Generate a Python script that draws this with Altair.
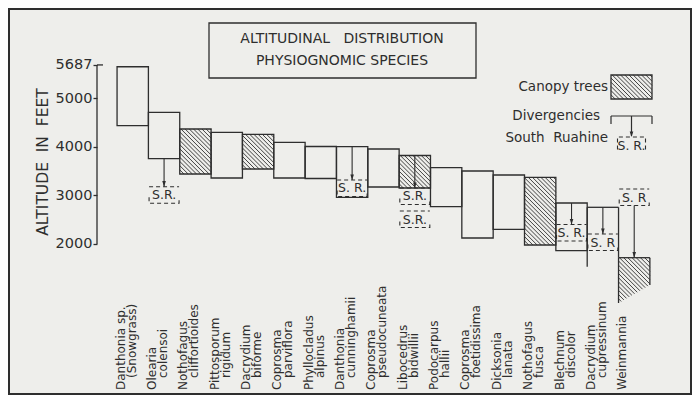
import altair as alt
import numpy as np
import pandas as pd

# ---------------- data ----------------
species_line1 = ["Danthonia sp.", "Olearia", "Nothofagus", "Pittosporum", "Dacrydium",
                 "Coprosma", "Phyllocladus", "Danthonia", "Coprosma", "Libocedrus",
                 "Podocarpus", "Coprosma", "Dicksonia", "Nothofagus", "Blechnum",
                 "Dacrydium", "Weinmannia"]
species_line2 = ["(Snowgrass)", "colensoi", "cliffortioides", "rigidum", "biforme",
                 "parviflora", "alpinus", "cunninghamii", "pseudocuneata", "bidwillii",
                 "hallii", "foetidissima", "lanata", "fusca", "discolor",
                 "cupressinum", ""]
top_ft = [5650, 4711, 4367, 4299, 4258, 4093, 4007, 4003, 3955, 3821,
          3570, 3502, 3420, 3372, 2843, 2754, 1716]
bottom_left_ft = [4435, 3755, 3440, 3358, 3543, 3358, 3347, 2960, 3172, 3152,
                  2767, 2122, 2301, 1978, 1860, 1531, 783]
bottom_right_ft = [4435, 3755, 3440, 3358, 3543, 3358, 3347, 2960, 3172, 3152,
                   2767, 2122, 2301, 1978, 1860, 1716, 1154]
canopy = [False, False, True, False, True, False, False, False, False, True,
          False, False, False, True, False, False, True]
open_bottom = [False] * 15 + [True, True]

# South Ruahine divergencies
sr_index = [1, 7, 9, 9, 14, 15, 16]
sr_top_ft = [3179, 3317, 3152, 2678, 2400, 2204, 3131]
sr_text = ["S.R.", "S. R.", "S.R.", "S.R.", "S. R.", "S. R", "S. R"]
arrow_index = [1, 7, 9, 14, 15, 16]
arrow_from_ft = [3755, 4003, 3821, 2843, 2754, 2790]
arrow_to_ft = [3179, 3317, 3152, 2400, 2204, 1716]

axis_ticks = [2000, 3000, 4000, 5000, 5687]

# ---------------- layout / style ----------------
BG = "#eeeeeb"
INK = "#2e2e2e"
FONT = "DejaVu Sans"
W, H = 593, 325
XD = [-0.64, 18.28]
YD = [0, 6695]
PX_X = W / (XD[1] - XD[0])
PX_Y = H / (YD[1] - YD[0])
HATCH_STEP = 4.2

xs = alt.Scale(domain=XD, nice=False, zero=False)
ys = alt.Scale(domain=YD, nice=False, zero=False)
yaxis = alt.Axis(values=axis_ticks, format="d", domain=False, grid=False, tickSize=4,
                 tickColor=INK, tickWidth=1.3, labelFontSize=14.5, labelFont=FONT,
                 labelColor=INK, labelPadding=1, title=None)


def X(f):
    return alt.X(f, type="quantitative", scale=xs, axis=None)


def Y(f):
    return alt.Y(f, type="quantitative", scale=ys, axis=yaxis)


def hatch(x0, x1, top, bl, br):
    """45-degree '\\' hatch segments clipped to a (possibly slanted-bottom) box."""
    w = (x1 - x0) * PX_X
    hl = (top - bl) * PX_Y
    hr = (top - br) * PX_Y
    k = (hr - hl) / w
    segs = []
    c = -max(hl, hr)
    while c < w:
        lo = max(0.0, c)
        hi = min(w, (c + hl) / (1 - k))
        if hi - lo > 0.4:
            segs.append((x0 + lo / PX_X, top - (lo - c) / PX_Y,
                         x0 + hi / PX_X, top - (hi - c) / PX_Y))
        c += HATCH_STEP
    return segs


n = len(top_ft)
bars = pd.DataFrame({
    "x0": np.arange(n, dtype=float), "x1": np.arange(n, dtype=float) + 1,
    "xc": np.arange(n, dtype=float) + 0.5,
    "top": top_ft, "bl": bottom_left_ft, "br": bottom_right_ft,
    "canopy": canopy, "open": open_bottom,
    "l1": species_line1, "l2": species_line2,
})

seg_rows = []
for _, r in bars.iterrows():
    if r["open"]:
        seg_rows.append((r.x0, r.top, r.x1, r.top))
        seg_rows.append((r.x0, r.top, r.x0, r.bl))
        seg_rows.append((r.x1, r.top, r.x1, r.br))
edges = pd.DataFrame(seg_rows, columns=["xa", "ya", "xb", "yb"])

h_rows = []
for _, r in bars[bars.canopy].iterrows():
    h_rows += hatch(r.x0, r.x1, r.top, r.bl, r.br)


# legend hatched box, given in pixels of the plot area
def px2x(p):
    return XD[0] + p / PX_X


def px2y(p):
    return YD[1] - p / PX_Y


LB = (514, 555, 59, 83)
h_rows += hatch(px2x(LB[0]), px2x(LB[1]), px2y(LB[2]), px2y(LB[3]), px2y(LB[3]))
hatches = pd.DataFrame(h_rows, columns=["xa", "ya", "xb", "yb"])

srs = pd.DataFrame({"xc": np.array(sr_index) + 0.5, "top": sr_top_ft, "t": sr_text})
arrows = pd.DataFrame({"xc": np.array(arrow_index) + 0.5,
                       "a": arrow_from_ft, "b": arrow_to_ft})
axis_df = pd.DataFrame({"lo": [min(axis_ticks)], "hi": [max(axis_ticks)]})

ARROW = "M-0.45,-1.4L0,0L0.45,-1.4Z"
SRBOX = "M-1,0H1M-1,0.7V1.1H1V0.7"

layers = []

# closed bars
layers.append(alt.Chart(bars[~bars.open]).mark_rect(
    fill=BG, fillOpacity=0, stroke=INK, strokeWidth=1.3
).encode(x=X("x0"), x2="x1", y=Y("top"), y2="bl"))

# open-bottom bars edges
layers.append(alt.Chart(edges).mark_rule(color=INK, strokeWidth=1.3).encode(
    x=X("xa"), y=Y("ya"), x2="xb", y2="yb"))

# hatching
layers.append(alt.Chart(hatches).mark_rule(color=INK, strokeWidth=0.9).encode(
    x=X("xa"), y=Y("ya"), x2="xb", y2="yb"))

# arrows
layers.append(alt.Chart(arrows).mark_rule(color=INK, strokeWidth=1.1).encode(
    x=X("xc"), y=Y("a"), y2="b"))
layers.append(alt.Chart(arrows).mark_point(
    shape=ARROW, size=64, filled=True, color=INK, opacity=1
).encode(x=X("xc"), y=Y("b")))

# S.R. brackets
layers.append(alt.Chart(srs).mark_point(
    shape=SRBOX, size=900, filled=False, color=INK, opacity=1,
    strokeWidth=1.1, strokeDash=[4, 3]
).encode(x=X("xc"), y=Y("top")))
layers.append(alt.Chart(srs).mark_text(
    font=FONT, fontSize=12.5, color=INK, baseline="middle", dy=8.5
).encode(x=X("xc"), y=Y("top"), text="t"))

# y axis line and top tick
layers.append(alt.Chart(axis_df).mark_rule(color=INK, strokeWidth=1.3).encode(
    x=alt.value(0), y=Y("lo"), y2="hi"))
layers.append(alt.Chart(axis_df).mark_rule(color=INK, strokeWidth=1.3).encode(
    x=alt.value(0), x2=alt.value(6), y=Y("hi")))

# species labels (rotated; dy shifts sideways on screen)
layers.append(alt.Chart(bars).mark_text(
    font=FONT, fontSize=12, color=INK, angle=270, align="left",
    baseline="middle", dy=-12
).encode(x=X("xc"), y=alt.value(374), text="l1"))
layers.append(alt.Chart(bars).mark_text(
    font=FONT, fontSize=12, color=INK, angle=270, align="left",
    baseline="middle", dy=-1
).encode(x=X("xc"), y=alt.value(362), text="l2"))

# ---------------- decorations (pixel positions in the plot area) ----------------
deco = alt.Chart(pd.DataFrame({"d": [0]}))

# outer frame
layers.append(deco.mark_rect(fill=BG, fillOpacity=0, stroke=INK, strokeWidth=2).encode(
    x=alt.value(-88), x2=alt.value(594), y=alt.value(-7), y2=alt.value(378)))
# title box
layers.append(deco.mark_rect(fill=BG, fillOpacity=0, stroke=INK, strokeWidth=1.3).encode(
    x=alt.value(112), x2=alt.value(379), y=alt.value(7), y2=alt.value(62)))
layers.append(deco.mark_text(text="ALTITUDINAL\u00a0\u00a0 DISTRIBUTION", font=FONT,
                             fontSize=14, color=INK, baseline="middle").encode(
    x=alt.value(245), y=alt.value(23)))
layers.append(deco.mark_text(text="PHYSIOGNOMIC SPECIES", font=FONT,
                             fontSize=14, color=INK, baseline="middle").encode(
    x=alt.value(245), y=alt.value(45)))
# y title
layers.append(deco.mark_text(text="ALTITUDE\u00a0 IN\u00a0 FEET", font=FONT, fontSize=15.5,
                             color=INK, angle=270, baseline="middle").encode(
    x=alt.value(-54), y=alt.value(146)))

# legend
layers.append(deco.mark_text(text="Canopy trees", font=FONT, fontSize=13.5, color=INK,
                             align="right", baseline="middle").encode(
    x=alt.value(511), y=alt.value(71)))
layers.append(deco.mark_rect(fill=BG, fillOpacity=0, stroke=INK, strokeWidth=1.3).encode(
    x=alt.value(LB[0]), x2=alt.value(LB[1]), y=alt.value(LB[2]), y2=alt.value(LB[3])))
layers.append(deco.mark_text(text="Divergencies", font=FONT, fontSize=13.5, color=INK,
                             align="right", baseline="middle").encode(
    x=alt.value(503), y=alt.value(100)))
for (a, b, c, d) in [(514, 555, 100, 100), (514, 514, 100, 108), (555, 555, 100, 108),
                     (534.5, 534.5, 100, 120)]:
    layers.append(deco.mark_rule(color=INK, strokeWidth=1.2).encode(
        x=alt.value(a), x2=alt.value(b), y=alt.value(c), y2=alt.value(d)))
layers.append(deco.mark_point(shape=ARROW, size=64, filled=True, color=INK, opacity=1).encode(
    x=alt.value(534.5), y=alt.value(121)))
layers.append(deco.mark_text(text="South\u00a0 Ruahine", font=FONT, fontSize=13.5, color=INK,
                             align="right", baseline="middle").encode(
    x=alt.value(511), y=alt.value(122)))
layers.append(deco.mark_point(shape="M-1,0.9V0H1V0.9", size=784, filled=False, color=INK,
                              opacity=1, strokeWidth=1.1, strokeDash=[4, 3]).encode(
    x=alt.value(534.5), y=alt.value(121)))
layers.append(deco.mark_text(text="S. R.", font=FONT, fontSize=12.5, color=INK,
                             baseline="middle").encode(
    x=alt.value(534.5), y=alt.value(129.5)))

chart = alt.layer(*layers).properties(
    width=W, height=H,
    autosize=alt.AutoSizeParams(type="none"),
    padding={"left": 89, "top": 8, "right": 2, "bottom": 54},
    background=BG,
).configure_view(stroke=None)

chart.save("out.html", embed_options={"renderer": "svg", "actions": False})
